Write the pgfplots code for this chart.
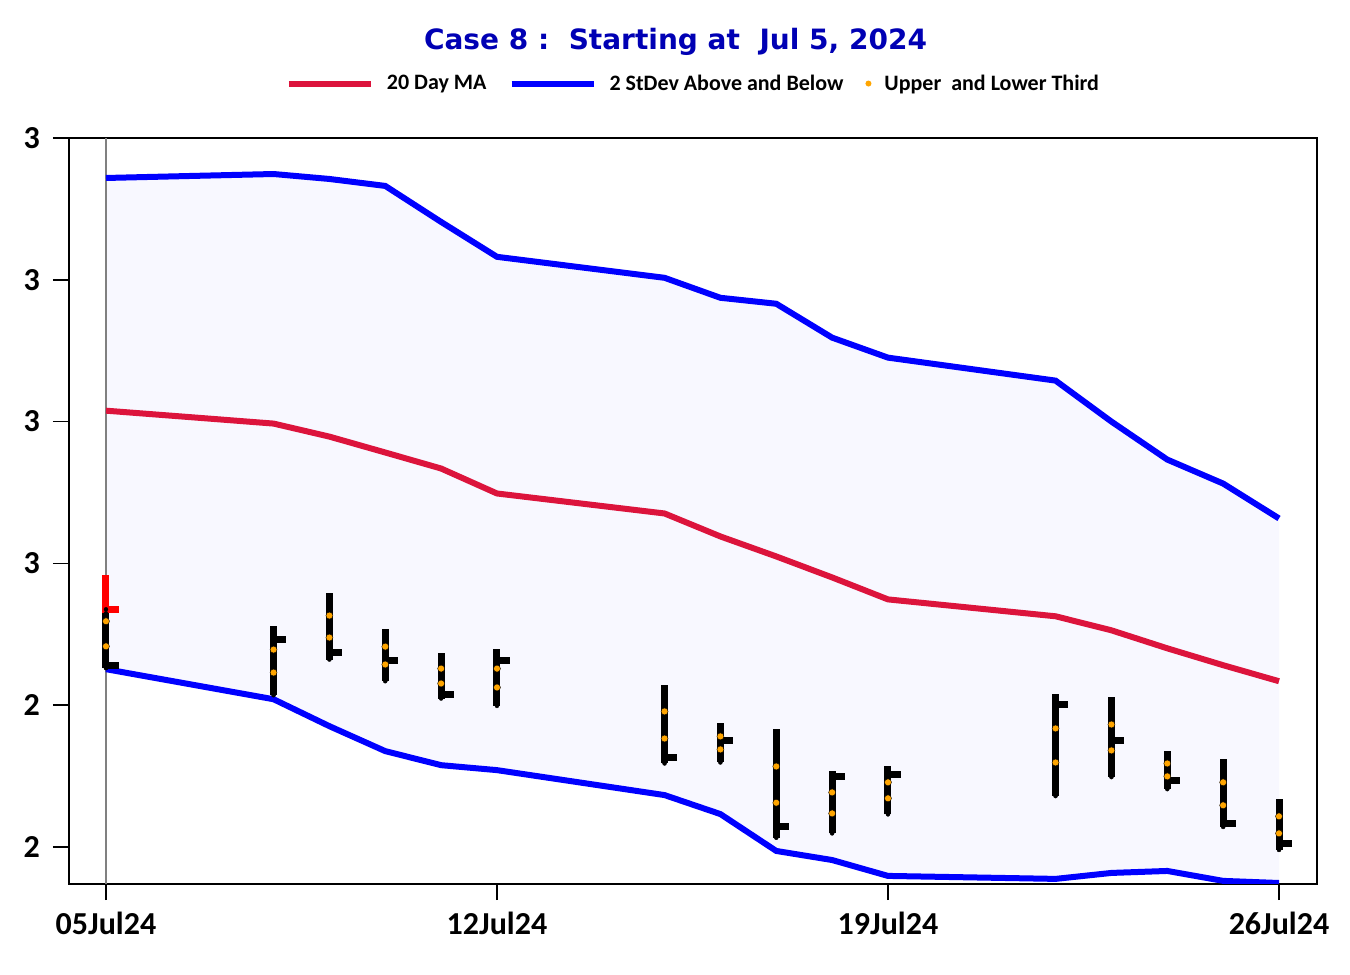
\documentclass[border=0pt]{standalone}
\usepackage{fontspec}
\setmainfont{Carlito}
\newfontfamily\titlefont{DejaVu Sans}
\usepackage{pgfplots}
\pgfplotsset{compat=1.18}
\usepackage{pgfplotstable}
\usepgfplotslibrary{fillbetween}

\definecolor{maRed}{RGB}{220,20,60}
\definecolor{bandBlue}{RGB}{0,0,255}
\definecolor{titleBlue}{RGB}{0,0,180}
\definecolor{bandFill}{RGB}{248,248,255}
\definecolor{dotOrange}{RGB}{255,165,0}
\definecolor{lRed}{RGB}{255,0,0}

\pgfplotsset{
    longline/.style={legend image code/.code={\draw[##1] (0pt,0pt) -- (82pt,0pt);}},
    dotimage/.style={legend image code/.code={\path (0pt,0pt) -- (6pt,0pt); \fill[dotOrange] (3pt,0pt) circle (3pt);}},
}

% moving average and 2 stdev band, trading days of July 2024
\pgfplotstableread{
d   up      ma      lo
5   2.8718  2.7077  2.5254
8   2.8746  2.6986  2.5042
9   2.8711  2.6894  2.4852
10  2.8662  2.6782  2.4676
11  2.8408  2.6669  2.4577
12  2.8162  2.6493  2.4542
15  2.8014  2.6352  2.4366
16  2.7873  2.6190  2.4232
17  2.7831  2.6049  2.3972
18  2.7592  2.5901  2.3908
19  2.7451  2.5746  2.3796
22  2.7289  2.5627  2.3775
23  2.7000  2.5528  2.3817
24  2.6732  2.5401  2.3831
25  2.6563  2.5282  2.3761
26  2.6317  2.5169  2.3746
}\bands

% daily bars: high, low, close, upper and lower third
\pgfplotstableread{
d   high    low     close   t1      t2
5   2.5768  2.5261  2.5282  2.5592  2.5415
8   2.5558  2.5070  2.5465  2.5392  2.5230
9   2.5791  2.5322  2.5375  2.5632  2.5477
10  2.5540  2.5169  2.5317  2.5413  2.5287
11  2.5371  2.5047  2.5073  2.5258  2.5153
12  2.5399  2.4995  2.5317  2.5258  2.5125
15  2.5141  2.4589  2.4632  2.4956  2.4765
16  2.4871  2.4596  2.4751  2.4780  2.4688
17  2.4831  2.4065  2.4143  2.4568  2.4312
18  2.4535  2.4096  2.4500  2.4385  2.4237
19  2.4570  2.4230  2.4512  2.4456  2.4343
22  2.5077  2.4359  2.5005  2.4836  2.4596
23  2.5058  2.4493  2.4749  2.4864  2.4681
24  2.4678  2.4408  2.4472  2.4589  2.4498
25  2.4620  2.4141  2.4167  2.4456  2.4294
26  2.4336  2.3979  2.4026  2.4216  2.4096
}\ohlc

\pgfplotstableread{
d   high    low     close
5   2.5915  2.5648  2.5676
}\first

\begin{document}
\begin{tikzpicture}
\path (0,0) rectangle (1350pt,975pt);
\begin{axis}[
    at={(69pt,91pt)}, anchor=south west,
    scale only axis, width=1248pt, height=746pt,
    xmin=4.338, xmax=26.68, ymin=2.3739, ymax=2.9,
    xtick={5,12,19,26},
    xticklabels={05Jul24,12Jul24,19Jul24,26Jul24},
    ytick={2.4,2.5,2.6,2.7,2.8,2.9},
    yticklabels={2,2,3,3,3,3},
    tick pos=left,
    tick align=outside,
    major tick length=16pt,
    tick style={black, line width=1.5pt},
    axis line style={line width=1.5pt},
    xticklabel style={font=\fontsize{32}{38}\selectfont\bfseries, inner sep=0pt, yshift=-12pt},
    yticklabel style={font=\fontsize{32}{38}\selectfont\bfseries, inner sep=0pt, xshift=-13pt},
    title={Case 8 :\ \ Starting at\ \ Jul 5, 2024},
    title style={font=\titlefont\fontsize{28}{34}\selectfont\bfseries, text=titleBlue,
        at={(0.486,1.1205)}, anchor=center, inner sep=0pt},
    legend columns=-1,
    legend style={at={(0.4996,1.073)}, anchor=center, draw=none, fill=none,
        font=\fontsize{22}{26}\selectfont\bfseries,
        nodes={inner sep=0pt},
        /tikz/every odd column/.append style={column sep=13pt},
        /tikz/every even column/.append style={column sep=22pt}},
]
\addplot[name path=upper, draw=none, forget plot] table[x=d, y=up] {\bands};
\addplot[name path=lower, draw=none, forget plot] table[x=d, y=lo] {\bands};
\addplot[bandFill, forget plot] fill between[of=upper and lower];
\addplot[gray, line width=1.5pt, forget plot] coordinates {(5,2.3739) (5,2.9)};

\addplot[maRed, line width=6pt, longline] table[x=d, y=ma] {\bands};
\addlegendentry{20 Day MA}
\addplot[bandBlue, line width=6pt, longline] table[x=d, y=up] {\bands};
\addlegendentry{2 StDev Above and Below}
\addplot[bandBlue, line width=6pt, forget plot] table[x=d, y=lo] {\bands};

% bars: range and close tick
\addplot[only marks, mark=none, forget plot,
    error bars/.cd, y dir=plus, y explicit, error mark=none,
    error bar style={draw=black, line width=7pt, line cap=butt}]
    table[x=d, y=low, y error expr=\thisrow{high}-\thisrow{low}] {\ohlc};
\addplot[only marks, mark=none, forget plot,
    error bars/.cd, x dir=plus, x fixed=0.23, error mark=none,
    error bar style={draw=black, line width=7pt, line cap=butt}]
    table[x=d, y=close] {\ohlc};
\addplot[only marks, mark=none, forget plot,
    error bars/.cd, y dir=plus, y explicit, error mark=none,
    error bar style={draw=lRed, line width=7pt, line cap=butt}]
    table[x=d, y=low, y error expr=\thisrow{high}-\thisrow{low}] {\first};
\addplot[only marks, mark=none, forget plot,
    error bars/.cd, x dir=plus, x fixed=0.23, error mark=none,
    error bar style={draw=lRed, line width=7pt, line cap=butt}]
    table[x=d, y=close] {\first};

\addplot[only marks, mark=*, mark size=3.5pt, draw=none, fill=dotOrange, dotimage]
    table[x=d, y=t1] {\ohlc};
\addlegendentry{Upper\ \ and Lower Third}
\addplot[only marks, mark=*, mark size=3.5pt, draw=none, fill=dotOrange, forget plot]
    table[x=d, y=t2] {\ohlc};
\end{axis}
\end{tikzpicture}
\end{document}
